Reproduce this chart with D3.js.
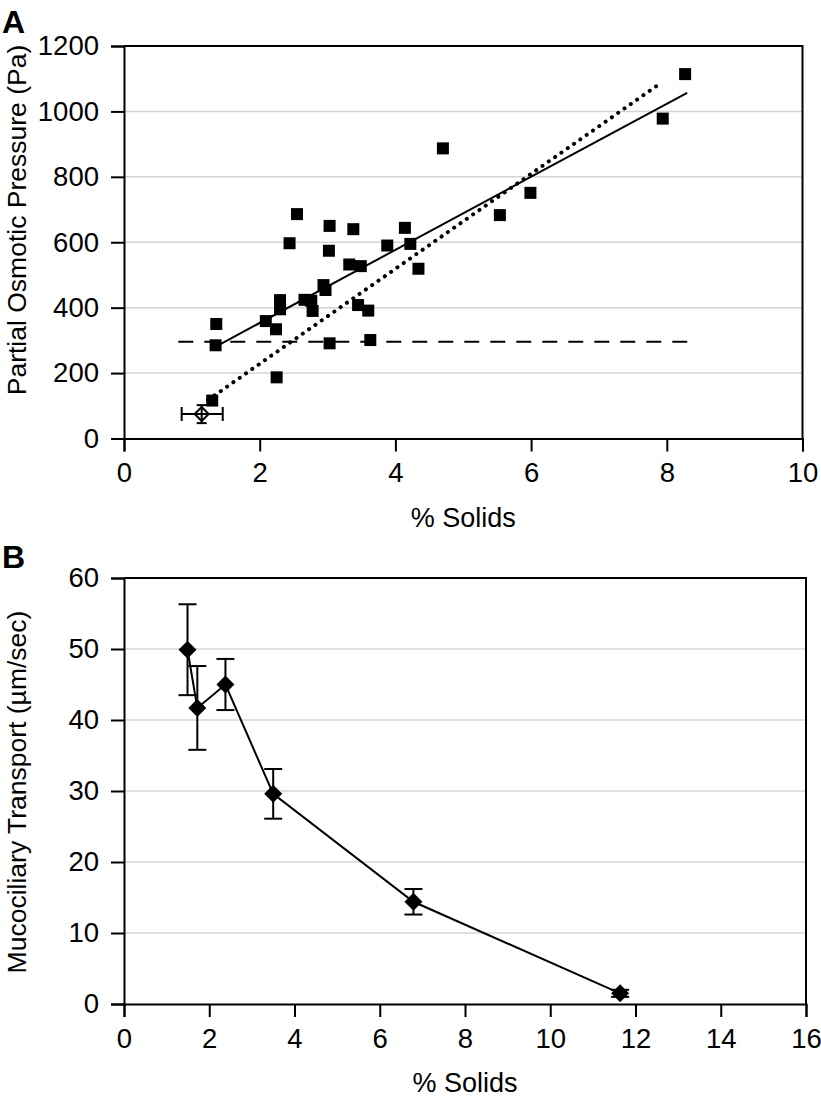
<!DOCTYPE html>
<html>
<head>
<meta charset="utf-8">
<script src="https://cdn.jsdelivr.net/npm/d3@7"></script>
<style>
  html, body { margin: 0; padding: 0; background: #fff; }
  svg { display: block; }
  text { font-family: "Liberation Sans", Arial, Helvetica, sans-serif; fill: #000; }
</style>
</head>
<body>
<svg id="chart" width="821" height="1099"></svg>
<script>
// ---------- Panel A data ----------
const solidsA = [1.30, 1.35, 1.36, 2.09, 2.24, 2.25, 2.30, 2.30, 2.44, 2.55, 2.66, 2.76, 2.78, 2.94, 2.97, 3.03, 3.03, 3.02, 3.32, 3.49, 3.45, 3.60, 3.63, 3.38, 3.88, 4.14, 4.22, 4.34, 4.70, 5.54, 5.99, 7.94, 8.27];
const pressureA = [116, 285, 350, 359, 334, 187, 423, 395, 597, 686, 424, 421, 390, 469, 454, 291, 650, 574, 532, 527, 408, 391, 301, 640, 590, 644, 595, 519, 887, 683, 751, 978, 1114];
const openPointA = [{x: 1.145, y: 75, xErrLo: 0.85, xErrHi: 1.455, yErrLo: 47, yErrHi: 102}];
const solidFitLine = [{x: 1.415, y: 288}, {x: 8.30, y: 1057}];
const dottedFitLine = [{x: 1.24, y: 118}, {x: 7.92, y: 1088}];
const dashedLine = [{x: 0.80, y: 296}, {x: 8.37, y: 296}];
const xTicksA = [0, 2, 4, 6, 8, 10];
const yTicksA = [0, 200, 400, 600, 800, 1000, 1200];

// ---------- Panel B data ----------
const solidsB = [1.49, 1.72, 2.38, 3.50, 6.79, 11.64];
const transportB = [49.9, 41.7, 45.0, 29.6, 14.4, 1.5];
const errorB = [6.4, 5.9, 3.6, 3.5, 1.8, 0.5];
const xTicksB = [0, 2, 4, 6, 8, 10, 12, 14, 16];
const yTicksB = [0, 10, 20, 30, 40, 50, 60];

const svg = d3.select("#chart");
const TICK_FS = 27.5;
const TITLE_FS = 26.5;

function drawFrame(g, x, y, xTicks, yTicks, xTitle, yTitle, yTitleCenter, panelLabel, labelY) {
  const [x0, x1] = x.range();
  const [yb, yt] = y.range();
  g.append("g").selectAll("line").data(yTicks.slice(1, -1)).join("line")
    .attr("x1", x0).attr("x2", x1)
    .attr("y1", d => y(d)).attr("y2", d => y(d))
    .attr("stroke", "#d4d4d4").attr("stroke-width", 1.5);
  g.append("path")
    .attr("d", `M${x0},${yt}H${x1}V${yb}`)
    .attr("fill", "none").attr("stroke", "#000").attr("stroke-width", 2);
  const xa = g.append("g").attr("transform", `translate(0,${yb})`)
    .call(d3.axisBottom(x).tickValues(xTicks).tickSizeOuter(0).tickSize(13).tickPadding(11).tickFormat(d3.format("d")));
  const ya = g.append("g").attr("transform", `translate(${x0},0)`)
    .call(d3.axisLeft(y).tickValues(yTicks).tickSizeOuter(0).tickSize(13).tickPadding(12).tickFormat(d3.format("d")));
  [xa, ya].forEach(a => {
    a.attr("font-size", null).attr("font-family", null);
    a.select(".domain").attr("stroke", "#000").attr("stroke-width", 2);
    a.selectAll(".tick line").attr("stroke", "#000").attr("stroke-width", 2);
    a.selectAll(".tick text").style("font-size", TICK_FS + "px").attr("fill", "#000");
  });
  g.append("text").attr("x", (x0 + x1) / 2).attr("y", yb + 88)
    .attr("text-anchor", "middle").style("font-size", "27px").text(xTitle);
  g.append("text").attr("transform", `translate(26,${yTitleCenter}) rotate(-90)`)
    .attr("text-anchor", "middle").style("font-size", TITLE_FS + "px").text(yTitle);
  g.append("text").attr("x", 2).attr("y", labelY)
    .style("font-size", "32px").attr("font-weight", "bold").text(panelLabel);
}

// ---------- Panel A ----------
const xA = d3.scaleLinear().domain([0, 10]).range([124, 802.5]);
const yA = d3.scaleLinear().domain([0, 1200]).range([438.5, 46]);
const gA = svg.append("g");
drawFrame(gA, xA, yA, xTicksA, yTicksA, "% Solids", "Partial Osmotic Pressure (Pa)", 220, "A", 33);

const lineA = d3.line().x(d => xA(d.x)).y(d => yA(d.y));
gA.append("path").datum(dashedLine).attr("d", lineA)
  .attr("fill", "none").attr("stroke", "#000").attr("stroke-width", 2).attr("stroke-dasharray", "15 11");
gA.append("path").datum(solidFitLine).attr("d", lineA)
  .attr("fill", "none").attr("stroke", "#000").attr("stroke-width", 2);
gA.append("path").datum(dottedFitLine).attr("d", lineA)
  .attr("fill", "none").attr("stroke", "#000").attr("stroke-width", 4)
  .attr("stroke-linecap", "round").attr("stroke-dasharray", "0.1 7.6");

const sq = 12;
gA.append("g").selectAll("rect").data(solidsA.map((s, i) => ({x: s, y: pressureA[i]}))).join("rect")
  .attr("x", d => xA(d.x) - sq / 2).attr("y", d => yA(d.y) - sq / 2)
  .attr("width", sq).attr("height", sq).attr("fill", "#000");

const op = gA.append("g");
openPointA.forEach(d => {
  const cx = xA(d.x), cy = yA(d.y);
  op.append("line").attr("x1", xA(d.xErrLo)).attr("x2", xA(d.xErrHi)).attr("y1", cy).attr("y2", cy).attr("stroke", "#000").attr("stroke-width", 2);
  [d.xErrLo, d.xErrHi].forEach(v => op.append("line").attr("x1", xA(v)).attr("x2", xA(v)).attr("y1", cy - 7).attr("y2", cy + 7).attr("stroke", "#000").attr("stroke-width", 2));
  op.append("line").attr("x1", cx).attr("x2", cx).attr("y1", yA(d.yErrLo)).attr("y2", yA(d.yErrHi)).attr("stroke", "#000").attr("stroke-width", 2);
  [d.yErrLo, d.yErrHi].forEach(v => op.append("line").attr("x1", cx - 5).attr("x2", cx + 5).attr("y1", yA(v)).attr("y2", yA(v)).attr("stroke", "#000").attr("stroke-width", 2));
  op.append("path").attr("d", `M${cx},${cy - 7}L${cx + 7},${cy}L${cx},${cy + 7}L${cx - 7},${cy}Z`)
    .attr("fill", "none").attr("stroke", "#000").attr("stroke-width", 2);
});

// ---------- Panel B ----------
const xB = d3.scaleLinear().domain([0, 16]).range([124, 806]);
const yB = d3.scaleLinear().domain([0, 60]).range([1004, 578]);
const gB = svg.append("g");
drawFrame(gB, xB, yB, xTicksB, yTicksB, "% Solids", "Mucociliary Transport (\u00B5m/sec)", 792, "B", 568);

const ptsB = solidsB.map((s, i) => ({x: s, y: transportB[i], e: errorB[i]}));
gB.append("path").datum(ptsB).attr("d", d3.line().x(d => xB(d.x)).y(d => yB(d.y)))
  .attr("fill", "none").attr("stroke", "#000").attr("stroke-width", 2);
const eb = gB.append("g").attr("stroke", "#000").attr("stroke-width", 2);
ptsB.forEach(d => {
  const cx = xB(d.x);
  eb.append("line").attr("x1", cx).attr("x2", cx).attr("y1", yB(d.y - d.e)).attr("y2", yB(d.y + d.e));
  [d.y - d.e, d.y + d.e].forEach(v => eb.append("line").attr("x1", cx - 9).attr("x2", cx + 9).attr("y1", yB(v)).attr("y2", yB(v)));
});
const dm = 9;
gB.append("g").selectAll("path").data(ptsB).join("path")
  .attr("d", d => { const cx = xB(d.x), cy = yB(d.y); return `M${cx},${cy - dm}L${cx + dm},${cy}L${cx},${cy + dm}L${cx - dm},${cy}Z`; })
  .attr("fill", "#000");
</script>
</body>
</html>
